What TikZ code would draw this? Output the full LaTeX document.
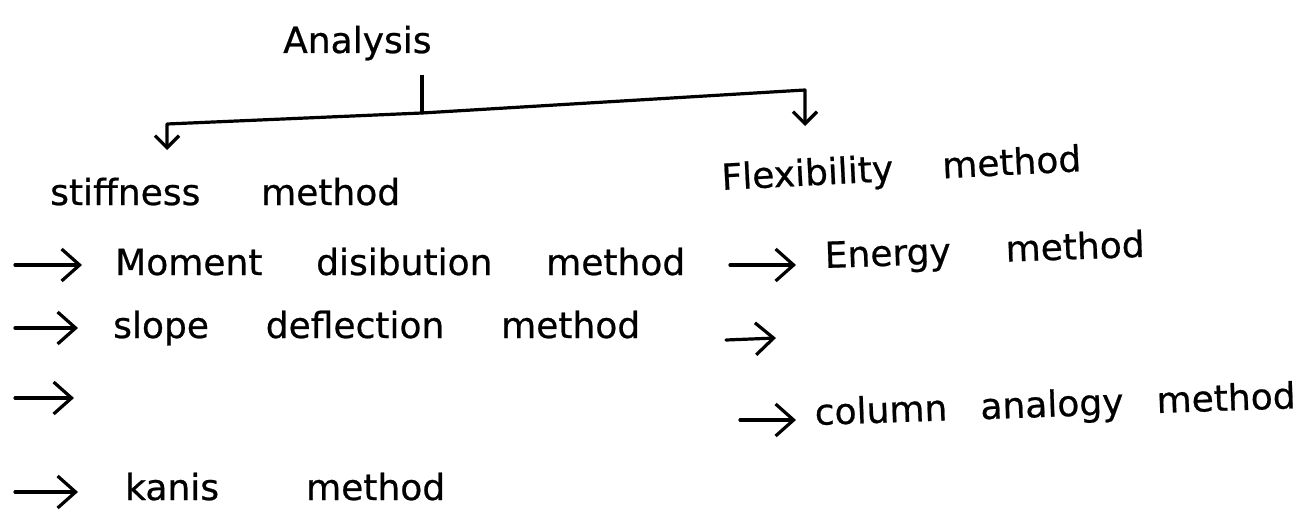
\documentclass[tikz,border=0pt]{standalone}
\usepackage{fontspec}
\newfontfamily\hwfont[FakeBold=0.6]{DejaVu Sans}
\usetikzlibrary{arrows.meta}
\newcommand\hwspread[2]{\makebox[#1pt][s]{#2}}
\begin{document}
\begin{tikzpicture}[x=1pt,y=-1pt,
  hw/.style={font=\hwfont\fontsize{36}{44}\selectfont, inner sep=0pt, anchor=base west},
  conn/.style={line width=3.2pt, line cap=round, line join=round, -{Straight Barb[length=12pt,width=24pt,line width=3.2pt]}},
  bul/.style={line width=3.2pt, line cap=round, -{Straight Barb[length=18pt,width=32pt,line width=3.2pt]}}]
\useasboundingbox[fill=white] (0,0) rectangle (1312,524);

% headings
\node[hw] (an) at (283,53) {\hwspread{154}{Analysis}};
\node[hw] (st) at (50,205) {\hwspread{350}{stiffness method}};
\node[hw, rotate=3] (fl) at (722,190) {\hwspread{360}{Flexibility method}};

% tree connectors
\coordinate (stemtop) at (422,75);
\coordinate (j) at (422,113);
\coordinate (lc) at (167,124);
\coordinate (rc) at (805,90);
\coordinate (lt) at (167,150);
\coordinate (rt) at (805,126);
\draw[line width=3.2pt] (stemtop) -- (j);
\draw[conn] (j) -- (lc) -- (lt);
\draw[conn] (j) -- (rc) -- (rt);

% left column
\node[hw] (m1) at (115,275) {\hwspread{570}{Moment disibution method}};
\node[hw] (m2) at (113,338) {\hwspread{527}{slope deflection method}};
\node[hw] (m4) at (125,500) {\hwspread{320}{kanis method}};
\coordinate (a1s) at (15,265);  \coordinate (a1e) at (82,265);
\coordinate (a2s) at (15,328);  \coordinate (a2e) at (78,328);
\coordinate (a3s) at (15,398);  \coordinate (a3e) at (74,398);
\coordinate (a4s) at (15,492);  \coordinate (a4e) at (78,492);
\draw[bul] (a1s) -- (a1e);
\draw[bul] (a2s) -- (a2e);
\draw[bul] (a3s) -- (a3e);
\draw[bul] (a4s) -- (a4e);

% right column
\node[hw, rotate=2] (r1) at (825,268) {\hwspread{320}{Energy method}};
\node[hw, rotate=2] (r3) at (815,425) {\hwspread{481}{column analogy method}};
\coordinate (b1s) at (730,265); \coordinate (b1e) at (796,265);
\coordinate (b2s) at (726,340); \coordinate (b2e) at (776,338);
\coordinate (b3s) at (740,420); \coordinate (b3e) at (796,420);
\draw[bul] (b1s) -- (b1e);
\draw[bul] (b2s) -- (b2e);
\draw[bul] (b3s) -- (b3e);
\end{tikzpicture}
\end{document}
